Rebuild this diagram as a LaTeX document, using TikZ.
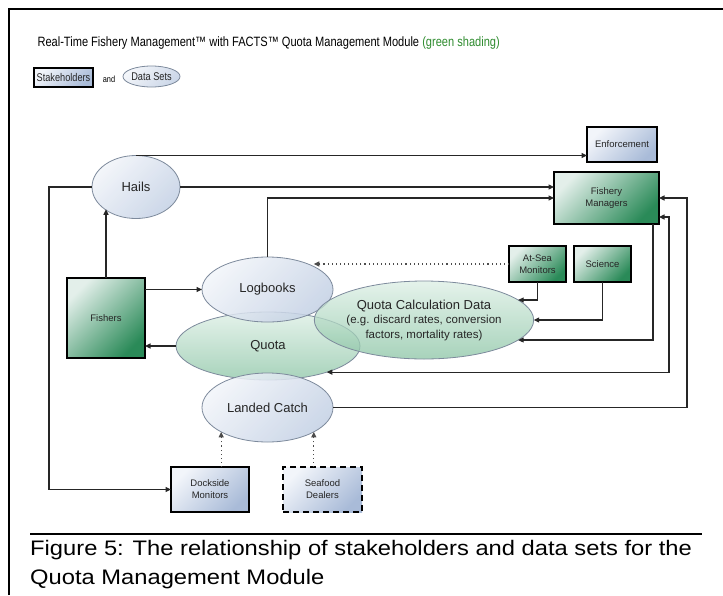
\documentclass[tikz,border=0pt]{standalone}
\usepackage{fontspec}
\setmainfont{Liberation Sans}
\newfontfamily\narrowfont[FakeStretch=0.82]{Liberation Sans}
\newfontfamily\widefont[FakeStretch=1.13]{Liberation Sans}
\usetikzlibrary{arrows.meta,shapes.geometric,calc}
\definecolor{bluelight}{HTML}{F2F5FA}
\definecolor{bluedark}{HTML}{A9BBD8}
\definecolor{setlight}{HTML}{F1F4F9}
\definecolor{setdark}{HTML}{C3D0E4}
\definecolor{setline}{HTML}{7D8A9C}
\definecolor{greenlight}{HTML}{E3EFEA}
\definecolor{greenmid}{HTML}{3F9C6B}
\definecolor{greendark}{HTML}{2A8A58}
\definecolor{quotalight}{HTML}{DCEEE4}
\definecolor{quotadark}{HTML}{8AC4A4}
\definecolor{titlegreen}{HTML}{2E8B2E}

\begin{document}
\begin{tikzpicture}[
        x=1pt, y=-1pt,
        font=\fontsize{13}{15}\selectfont,
        arrow/.style={draw=black!85, line width=1.1pt, -{Triangle[length=5.5pt,width=5pt]}},
        twoway/.style={draw=black!85, line width=1.1pt, {Triangle[length=5.5pt,width=5pt]}-{Triangle[length=5.5pt,width=5pt]}},
        dotarrow/.style={draw=black!70, line width=1.1pt, dash pattern=on 1.1pt off 3pt, -{Triangle[length=5.5pt,width=5pt]}}
    ]
    \tikzset{
        stakebox/.style = {rectangle, draw=black, line width=2pt, align=center, inner sep=0pt, outer sep=0pt,
            top color=bluelight, bottom color=bluedark, shading angle=45, text=black!85,
            font=\fontsize{9.5}{12}\selectfont},
        greenbox/.style = {stakebox, top color=greenlight, middle color=greenmid, bottom color=greendark, shading angle=45},
        dataset/.style = {ellipse, draw=setline, line width=0.8pt, inner sep=0pt, outer sep=0pt,
            top color=setlight, bottom color=setdark, shading angle=45, fill opacity=0.85, text opacity=1, text=black!85},
        quotaset/.style = {dataset, top color=quotalight, bottom color=quotadark, fill opacity=0.75},
    }
    \useasboundingbox (0,0) rectangle (723,595);
    \draw[line width=2pt] (9,595) -- (9,9) -- (723,9);
    \node[anchor=base west, font=\narrowfont\fontsize{13.5}{15}\selectfont] (title) at (34,46)
        {Real-Time Fishery Management™ with FACTS™ Quota Management Module \textcolor{titlegreen}{(green shading)}};
    \node[stakebox, minimum width=59pt, minimum height=19pt, font=\narrowfont\fontsize{11.2}{13}\selectfont] (legstake) at (63.5,77.5) {Stakeholders};
    \node[font=\narrowfont\fontsize{9}{11}\selectfont] (legand) at (109,79) {and};
    \node[dataset, minimum width=57pt, minimum height=21pt, font=\narrowfont\fontsize{11.2}{13}\selectfont] (legdata) at (151.5,76.5) {Data Sets};

    \node[stakebox, minimum width=70pt, minimum height=35pt] (enforce) at (622,144.5) {Enforcement};
    \node[greenbox, minimum width=105pt, minimum height=52pt] (managers) at (606.5,198) {Fishery\\Managers};
    \node[greenbox, minimum width=57pt, minimum height=36pt, font=\fontsize{9.5}{11.5}\selectfont] (atsea) at (537.5,264) {At-Sea\\Monitors};
    \node[greenbox, minimum width=57pt, minimum height=36pt] (science) at (602.5,264) {Science};
    \node[greenbox, minimum width=78pt, minimum height=80pt] (fishers) at (106,318) {Fishers};
    \node[stakebox, minimum width=78pt, minimum height=45pt] (dockside) at (210,489.5) {Dockside\\Monitors};
    \node[stakebox, dash pattern=on 6pt off 4pt, minimum width=79pt, minimum height=45pt] (dealers) at (322.5,489.5) {Seafood\\Dealers};

    \node[dataset, minimum width=88pt, minimum height=63pt] (hails) at (136,187) {Hails};
    \node[quotaset, minimum width=184pt, minimum height=68pt] (quota) at (268,346) {Quota};
    \node[dataset, minimum width=131pt, minimum height=65pt] (logbooks) at (267.5,289.5) {Logbooks};
    \node[dataset, minimum width=131pt, minimum height=69pt] (landed) at (267.5,407.5) {Landed Catch};
    \node[quotaset, minimum width=184pt, minimum height=78pt, align=center, font=\fontsize{11.5}{14.5}\selectfont] (calcdata) at (424,320)
        {{\fontsize{13}{14.5}\selectfont Quota Calculation Data}\\(e.g. discard rates, conversion\\factors, mortality rates)};

    \draw[arrow] (hails.north) -- (hails.north -| enforce.west);
    \draw[arrow] (hails.east) -- (hails.east -| managers.west);
    \draw[arrow] (logbooks.north) |- (managers.west);
    \draw[arrow] (fishers.north) -- (fishers.north |- hails.south west);
    \draw[arrow] (logbooks.west -| fishers.east) -- (logbooks.west);
    \draw[arrow] (quota.west) -- (quota.west -| fishers.east);
    \draw[dotarrow] (atsea.west) -- (atsea.west -| logbooks.north east);
    \draw[arrow] (atsea.south) |- (calcdata.12);
    \draw[arrow] (science.south) |- (calcdata.east);
    \draw[arrow] ($(managers.south east)+(-6,0)$) |- (calcdata.-12);
    \draw[twoway] (quota.-24) -| ($(managers.south east)+(10,-7)$) -- ($(managers.south east)+(0,-7)$);
    \draw[arrow] (landed.east) -| ($(managers.east)+(28,0)$) -- (managers.east);
    \draw[arrow] (hails.west) -| ($(dockside.west)+(-122,0)$) -- (dockside.west);
    \draw[dotarrow] (dockside.north -| landed.south west) -- (landed.south west);
    \draw[dotarrow] (dealers.north -| landed.south east) -- (landed.south east);

    \draw[line width=2pt] (30,534) -- (702,534);
    \node[anchor=north west, inner sep=0pt, align=left, font=\widefont\fontsize{21}{29}\selectfont] (caption) at (30,540)
        {Figure 5: The relationship of stakeholders and data sets for the\\Quota Management Module};
\end{tikzpicture}
\end{document}
